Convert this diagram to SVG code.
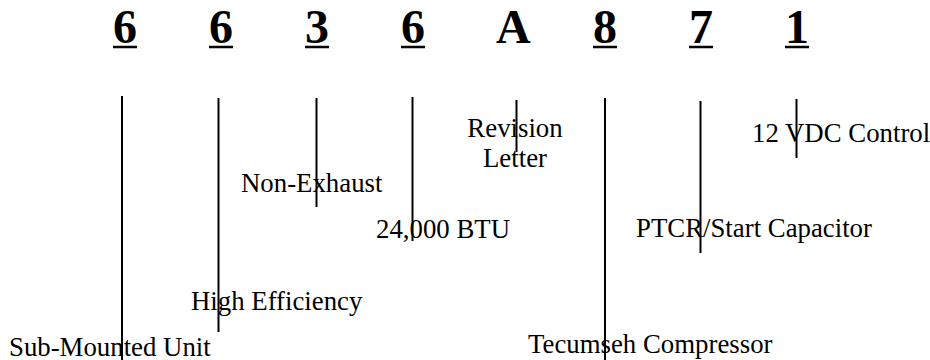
<svg xmlns="http://www.w3.org/2000/svg" width="930" height="360" viewBox="0 0 930 360">
<style>
.d{font-family:"Liberation Serif","Times New Roman",serif;font-weight:bold;font-size:48px;fill:#000}
.l{font-family:"Liberation Serif","Times New Roman",serif;font-size:26.8px;fill:#000}
.u{stroke:#000;stroke-width:2.5}
.c{stroke:#000;stroke-width:2;fill:none}
</style>
<rect width="930" height="360" fill="#fff"/>
<g id="digits">
<g id="d1"><text class="d" x="113" y="43">6</text><line class="u" x1="113" y1="47" x2="137" y2="47"/></g>
<g id="d2"><text class="d" x="209" y="43">6</text><line class="u" x1="209" y1="47" x2="233" y2="47"/></g>
<g id="d3"><text class="d" x="305" y="43">3</text><line class="u" x1="305" y1="47" x2="329" y2="47"/></g>
<g id="d4"><text class="d" x="401" y="43">6</text><line class="u" x1="401" y1="47" x2="425" y2="47"/></g>
<g id="d5"><text class="d" x="496" y="43">A</text></g>
<g id="d6"><text class="d" x="593" y="43">8</text><line class="u" x1="593" y1="47" x2="617" y2="47"/></g>
<g id="d7"><text class="d" x="689" y="43">7</text><line class="u" x1="689" y1="47" x2="713" y2="47"/></g>
<g id="d8"><text class="d" x="785" y="43">1</text><line class="u" x1="785" y1="47" x2="809" y2="47"/></g>
</g>
<g id="labels">
<g id="n1"><text class="l" x="9" y="356">Sub-Mounted Unit</text></g>
<g id="n2"><text class="l" x="191" y="310">High Efficiency</text></g>
<g id="n3"><text class="l" x="241" y="192">Non-Exhaust</text></g>
<g id="n4"><text class="l" x="376" y="238">24,000 BTU</text></g>
<g id="n5"><text class="l" x="515" y="137" text-anchor="middle">Revision</text><text class="l" x="515" y="167" text-anchor="middle">Letter</text></g>
<g id="n6"><text class="l" x="528" y="353">Tecumseh Compressor</text></g>
<g id="n7"><text class="l" x="636" y="237">PTCR/Start Capacitor</text></g>
<g id="n8"><text class="l" x="752" y="142">12 VDC Control</text></g>
</g>
<g id="connectors">
<line class="c" x1="122" y1="96" x2="122" y2="360"/>
<line class="c" x1="218.5" y1="98" x2="218.5" y2="332"/>
<line class="c" x1="316.5" y1="98" x2="316.5" y2="207"/>
<line class="c" x1="412.5" y1="97" x2="412.5" y2="241"/>
<line class="c" x1="516.5" y1="100" x2="516.5" y2="152"/>
<line class="c" x1="605" y1="98" x2="605" y2="360"/>
<line class="c" x1="700.5" y1="101" x2="700.5" y2="253"/>
<line class="c" x1="796.5" y1="99" x2="796.5" y2="158"/>
</g>
</svg>
